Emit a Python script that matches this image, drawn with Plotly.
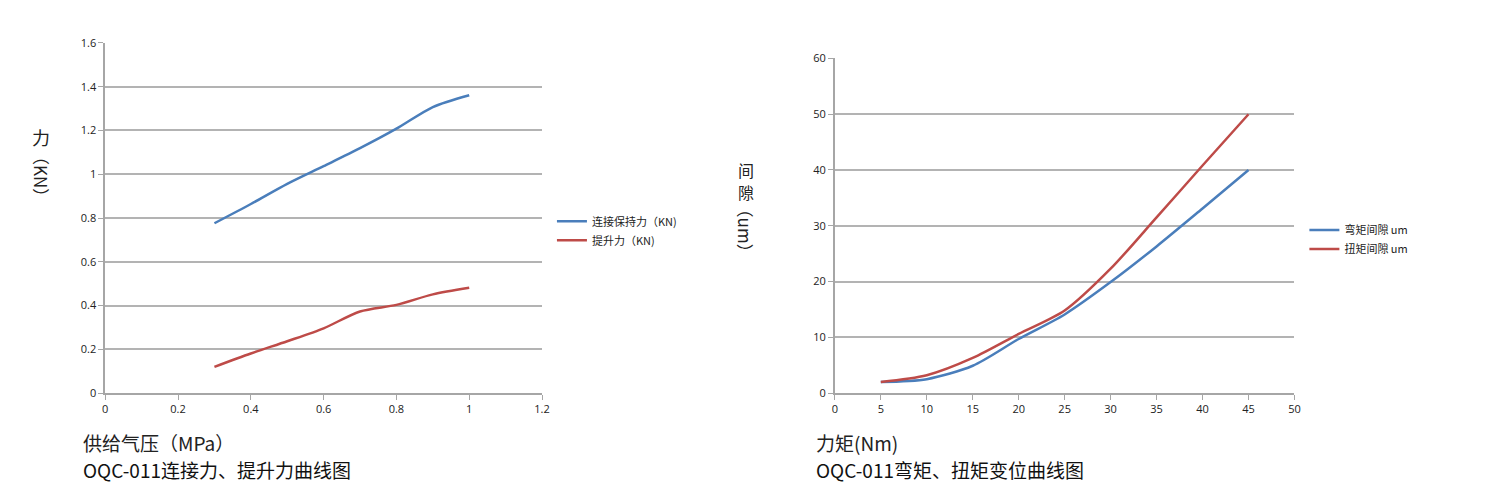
import plotly.graph_objects as go

# Left chart data
pressure = [0.3, 0.4, 0.5, 0.6, 0.7, 0.8, 0.9, 1.0]
hold_force = [0.776, 0.864, 0.956, 1.037, 1.119, 1.208, 1.307, 1.361]
lift_force = [0.12, 0.181, 0.237, 0.296, 0.373, 0.403, 0.451, 0.481]
left_names = ["连接保持力（KN)", "提升力（KN)"]

# Right chart data
torque = [5, 10, 15, 20, 25, 30, 35, 40, 45]
bend_gap = [2, 2.5, 4.9, 9.7, 14.1, 19.9, 26.3, 33.1, 40]
twist_gap = [2, 3.2, 6.3, 10.6, 14.8, 22.3, 31.5, 40.8, 50]
right_names = ["弯矩间隙 um", "扭矩间隙 um"]

BLUE = "#4a7ebb"
RED = "#be4b48"
FONT = "Open Sans, Noto Sans CJK SC, sans-serif"
CJK = "Noto Sans CJK SC, sans-serif"

fig = go.Figure()
fig.add_trace(go.Scatter(x=pressure, y=hold_force, mode="lines", name=left_names[0],
                         line=dict(color=BLUE, width=2.5, shape="spline", smoothing=0.8),
                         xaxis="x", yaxis="y", legend="legend"))
fig.add_trace(go.Scatter(x=pressure, y=lift_force, mode="lines", name=left_names[1],
                         line=dict(color=RED, width=2.5, shape="spline", smoothing=0.8),
                         xaxis="x", yaxis="y", legend="legend"))
fig.add_trace(go.Scatter(x=torque, y=bend_gap, mode="lines", name=right_names[0],
                         line=dict(color=BLUE, width=2.5, shape="spline", smoothing=0.8),
                         xaxis="x2", yaxis="y2", legend="legend2"))
fig.add_trace(go.Scatter(x=torque, y=twist_gap, mode="lines", name=right_names[1],
                         line=dict(color=RED, width=2.5, shape="spline", smoothing=0.8),
                         xaxis="x2", yaxis="y2", legend="legend2"))

W, H = 1500, 500
def xd(a, b):
    return [a / W, b / W]
def yd(top, bottom):
    return [1 - bottom / H, 1 - top / H]

axis_common = dict(showline=True, linecolor="#a6a6a6", linewidth=1.5,
                   ticks="outside", tickcolor="#a6a6a6", ticklen=5, tickwidth=1,
                   tickfont=dict(family=FONT, size=11, color="#222"),
                   zeroline=False)

fig.update_layout(
    width=W, height=H,
    margin=dict(l=0, r=0, t=0, b=0),
    paper_bgcolor="white", plot_bgcolor="white",
    xaxis=dict(domain=xd(103, 543), range=[0, 1.2], dtick=0.2, showgrid=False,
               anchor="y", **axis_common),
    yaxis=dict(domain=yd(36, 397), range=[0, 1.6], dtick=0.2, showgrid=True,
               gridcolor="#b3b3b3", gridwidth=1.5, anchor="x", **axis_common),
    xaxis2=dict(domain=xd(838, 1301), range=[0, 50], dtick=5, showgrid=False,
                anchor="y2", **axis_common),
    yaxis2=dict(domain=yd(52, 397), range=[0, 60], dtick=10, showgrid=True,
                gridcolor="#b3b3b3", gridwidth=1.5, anchor="x2", **axis_common),
    legend=dict(x=553 / W, y=1 - 205 / H, xanchor="left", yanchor="top",
                font=dict(family=CJK, size=11, color="#222"),
                bgcolor="rgba(0,0,0,0)", itemwidth=30, tracegroupgap=0),
    legend2=dict(x=1311 / W, y=1 - 214 / H, xanchor="left", yanchor="top",
                 font=dict(family=CJK, size=11, color="#222"),
                 bgcolor="rgba(0,0,0,0)", itemwidth=30, tracegroupgap=0),
    showlegend=True,
)

ann = []
def txt(x, y, t, size, angle=0, xanchor="center", color="#222", family=CJK):
    ann.append(dict(x=x / W, y=1 - y / H, xref="paper", yref="paper", text=t,
                    showarrow=False, textangle=angle, xanchor=xanchor, yanchor="middle",
                    font=dict(family=family, size=size, color=color)))

# Left y-axis title (stacked)
txt(38, 133, "力", 18)
txt(38, 174, "（KN）", 17, angle=90)
# Right y-axis title (stacked)
txt(748, 167, "间", 16)
txt(748, 190, "隙", 16)
txt(748, 229, "（um）", 17, angle=90)
# Bottom texts
txt(79, 448, "供给气压（MPa）", 19, xanchor="left")
txt(79, 476, "OQC-011连接力、提升力曲线图", 19, xanchor="left", color="#111")
txt(817, 448, "力矩(Nm)", 19, xanchor="left")
txt(817, 476, "OQC-011弯矩、扭矩变位曲线图", 19, xanchor="left", color="#111")

fig.update_layout(annotations=ann)
fig.write_html("out.html")
